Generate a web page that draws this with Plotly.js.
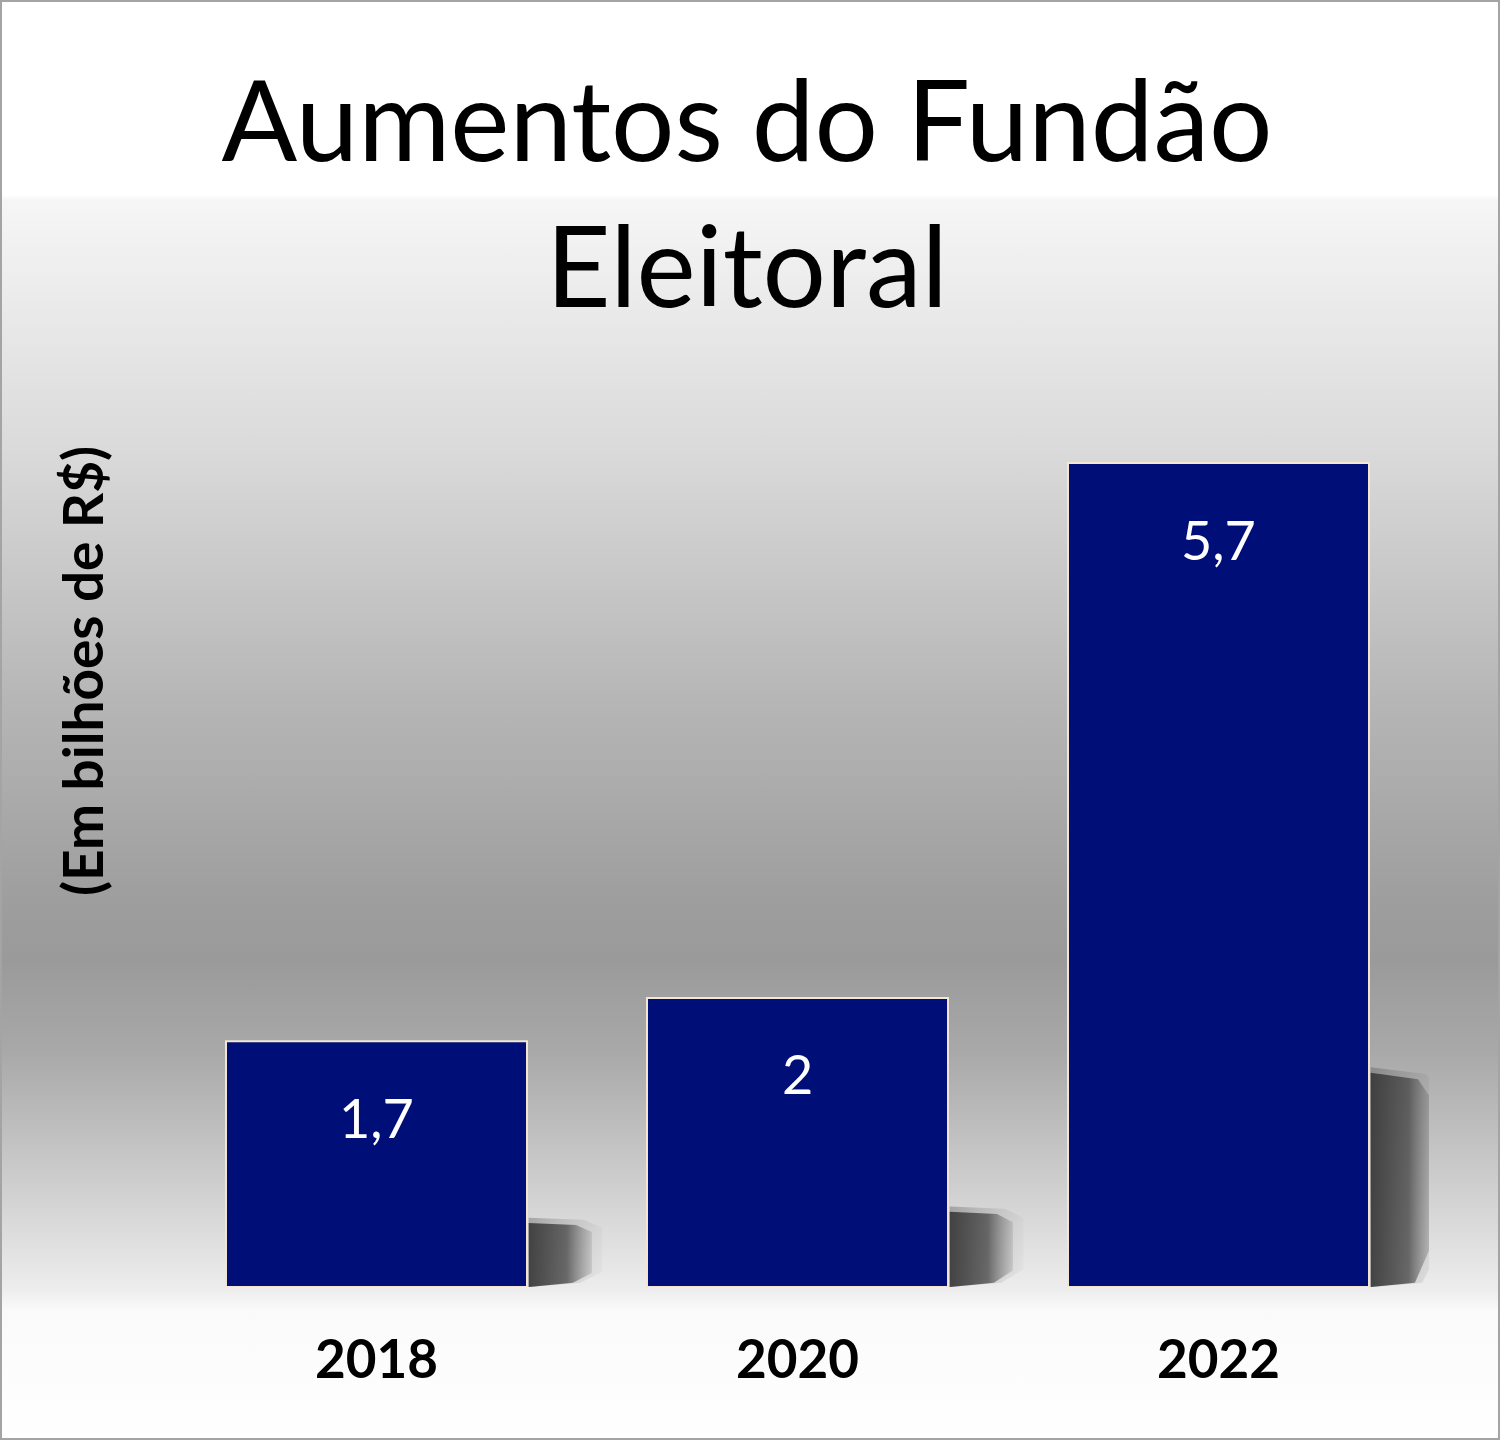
<!DOCTYPE html>
<html>
<head>
<meta charset="utf-8">
<script src="https://cdn.plot.ly/plotly-3.0.1.min.js"></script>
<style>
  html, body { margin: 0; padding: 0; background: #ffffff; }
  #chart {
    width: 1500px; height: 1440px;
    background: linear-gradient(to bottom,
      #ffffff 0px, #ffffff 195px, #f6f6f6 200px, #dadada 450px,
      #b6b6b6 700px, #9e9e9e 900px, #9a9a9a 960px, #a8a8a8 1050px,
      #cdcdcd 1180px, #ededed 1290px, #fafafa 1310px, #ffffff 1440px);
    box-shadow: inset 0 0 0 2px #a4a4a4;
  }
</style>
</head>
<body>
<div id="chart"></div>
<script>
// ---- data ----
const years = ['2018', '2020', '2022'];
const values = [1.7, 2, 5.7];
const titleText = 'Aumentos do Fundão<br>Eleitoral';
const yTitle = '(Em bilhões de R$)';

const idx = years.map((_, i) => i);
const barWidth = 0.715;

// soft shadows (drawn through the axes, derived from the values)
function shadow(i, v, grow, colors) {
  const xr = i + barWidth / 2 + 0.004;
  const w = 0.15 + grow;
  const h = 0.26 * v + grow * 1.5;
  return {
    type: 'scatter', mode: 'lines',
    x: [xr, xr, xr + w * 0.75, xr + w, xr + w, xr + w * 0.7, xr],
    y: [0, h, h * 0.97, h * 0.86, h * 0.22, 0.03, 0],
    fill: 'toself',
    line: { width: 0, color: 'rgba(0,0,0,0)' },
    fillgradient: { type: 'horizontal', colorscale: colors },
    hoverinfo: 'skip', showlegend: false
  };
}
const shadowTraces = [];
values.forEach((v, i) => {
  shadowTraces.push(shadow(i, v, 0.025, [[0, 'rgba(70,70,70,0.35)'], [1, 'rgba(120,120,120,0.05)']]));
  shadowTraces.push(shadow(i, v, 0.0, [[0, 'rgba(55,55,55,0.9)'], [0.6, 'rgba(70,70,70,0.75)'], [1, 'rgba(110,110,110,0.2)']]));
});

const barTrace = {
  type: 'bar',
  x: idx, y: values,
  width: barWidth,
  marker: { color: '#000f78', line: { color: '#f3e6d4', width: 2 } },
  hoverinfo: 'skip', showlegend: false
};

const annotations = values.map((v, i) => ({
  x: i, y: v, xref: 'x', yref: 'y',
  text: String(v).replace('.', ','),
  showarrow: false, yanchor: 'middle', yshift: -76,
  font: { family: 'Lato, sans-serif', size: 54, color: '#ffffff' }
}));
annotations.push({
  xref: 'paper', yref: 'paper', x: -0.0665, y: 0.6457,
  xanchor: 'center', yanchor: 'middle', textangle: -90,
  text: yTitle, showarrow: false,
  font: { family: 'Lato, sans-serif', size: 55, color: '#000000', weight: 'bold' }
});

const layout = {
  width: 1500, height: 1440,
  paper_bgcolor: 'rgba(0,0,0,0)', plot_bgcolor: 'rgba(0,0,0,0)',
  margin: { l: 166, r: 71, t: 333, b: 153 },
  title: {
    text: titleText,
    font: { family: 'Lato, sans-serif', size: 112, color: '#000000' },
    xref: 'container', x: 0.498, xanchor: 'center',
    yref: 'container', y: 0.888, yanchor: 'top'
  },
  xaxis: {
    range: [-0.5, 2.5], tickvals: idx, ticktext: years,
    showgrid: false, zeroline: false, showline: false, ticks: '',
    ticklabelstandoff: 37,
    tickfont: { family: 'Lato, sans-serif', size: 53, color: '#000000', weight: 'bold' }
  },
  yaxis: {
    range: [0, 6.6], showgrid: false, zeroline: false, showline: false,
    showticklabels: false, ticks: ''
  },
  annotations: annotations
};

Plotly.newPlot('chart', [...shadowTraces, barTrace], layout, { displayModeBar: false, staticPlot: true });
</script>
</body>
</html>
